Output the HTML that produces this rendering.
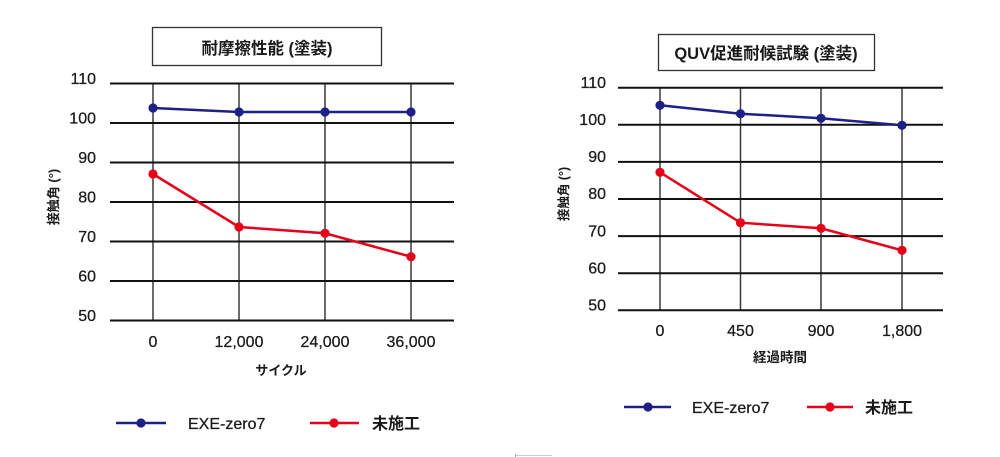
<!DOCTYPE html>
<html><head><meta charset="utf-8"><style>
html,body{margin:0;padding:0;background:#fff;}
svg{display:block;}
.n{font-family:"Liberation Sans","Noto Sans CJK JP",sans-serif;font-size:16px;fill:#1a1a1a;stroke:#1a1a1a;stroke-width:0.25;}
.j{font-family:"Liberation Sans","Noto Sans CJK JP",sans-serif;font-weight:bold;fill:#1a1a1a;}
</style></head><body>
<svg width="1000" height="457" viewBox="0 0 1000 457" xmlns="http://www.w3.org/2000/svg">
<rect width="1000" height="457" fill="#fff"/>

<!-- LEFT CHART -->
<rect x="152.5" y="27.5" width="229" height="38" fill="#fff" stroke="#333" stroke-width="1.3"/>
<text class="j" x="267" y="54" font-size="16.5" text-anchor="middle">耐摩擦性能 (塗装)</text>

<g stroke="#3a3a3a" stroke-width="1.5">
<line x1="153" y1="83.5" x2="153" y2="320.5"/>
<line x1="239" y1="83.5" x2="239" y2="320.5"/>
<line x1="325" y1="83.5" x2="325" y2="320.5"/>
<line x1="411" y1="83.5" x2="411" y2="320.5"/>
</g>
<g stroke="#111" stroke-width="2">
<line x1="110" y1="83.5" x2="454" y2="83.5"/>
<line x1="110" y1="123" x2="454" y2="123"/>
<line x1="110" y1="162.5" x2="454" y2="162.5"/>
<line x1="110" y1="202" x2="454" y2="202"/>
<line x1="110" y1="241.5" x2="454" y2="241.5"/>
<line x1="110" y1="281" x2="454" y2="281"/>
<line x1="110" y1="320.5" x2="454" y2="320.5"/>
</g>
<g class="n" text-anchor="end">
<text x="96" y="84">110</text>
<text x="96" y="123.5">100</text>
<text x="96" y="163">90</text>
<text x="96" y="202.5">80</text>
<text x="96" y="242">70</text>
<text x="96" y="281.5">60</text>
<text x="96" y="321">50</text>
</g>
<text class="j" font-size="13" text-anchor="middle" transform="translate(58,197) rotate(-90)">接触角 (°)</text>
<g class="n" text-anchor="middle" font-size="16.5">
<text x="153" y="347">0</text>
<text x="239" y="347">12,000</text>
<text x="325" y="347">24,000</text>
<text x="411" y="347">36,000</text>
</g>
<text class="j" font-size="13" x="281" y="375" text-anchor="middle">サイクル</text>

<polyline points="153,108 239,112 325,112 411,112" fill="none" stroke="#1c2087" stroke-width="2.5"/>
<g fill="#1c2087">
<circle cx="153" cy="108" r="4.6"/><circle cx="239" cy="112" r="4.6"/><circle cx="325" cy="112" r="4.6"/><circle cx="411" cy="112" r="4.6"/>
</g>
<polyline points="153,174 239,227 325,233.3 411,256.7" fill="none" stroke="#e60019" stroke-width="2.5"/>
<g fill="#e60019">
<circle cx="153" cy="174" r="4.6"/><circle cx="239" cy="227" r="4.6"/><circle cx="325" cy="233.3" r="4.6"/><circle cx="411" cy="256.7" r="4.6"/>
</g>

<line x1="116" y1="423" x2="166" y2="423" stroke="#1c2087" stroke-width="2.5"/>
<circle cx="141" cy="423" r="4.6" fill="#1c2087"/>
<text class="n" font-size="16.5" x="188" y="429">EXE-zero7</text>
<line x1="310" y1="423" x2="359" y2="423" stroke="#e60019" stroke-width="2.5"/>
<circle cx="334" cy="423" r="4.6" fill="#e60019"/>
<text class="j" font-size="16" x="372" y="429">未施工</text>

<!-- RIGHT CHART -->
<rect x="658.5" y="34.5" width="216" height="36" fill="#fff" stroke="#333" stroke-width="1.3"/>
<text class="j" x="766" y="59" font-size="16.5" text-anchor="middle">QUV促進耐候試験 (塗装)</text>

<g stroke="#3a3a3a" stroke-width="1.5">
<line x1="660" y1="87.7" x2="660" y2="310.3"/>
<line x1="740.5" y1="87.7" x2="740.5" y2="310.3"/>
<line x1="821" y1="87.7" x2="821" y2="310.3"/>
<line x1="902" y1="87.7" x2="902" y2="310.3"/>
</g>
<g stroke="#111" stroke-width="2">
<line x1="618" y1="87.7" x2="943" y2="87.7"/>
<line x1="618" y1="124.8" x2="943" y2="124.8"/>
<line x1="618" y1="161.9" x2="943" y2="161.9"/>
<line x1="618" y1="199" x2="943" y2="199"/>
<line x1="618" y1="236.1" x2="943" y2="236.1"/>
<line x1="618" y1="273.2" x2="943" y2="273.2"/>
<line x1="618" y1="310.3" x2="943" y2="310.3"/>
</g>
<g class="n" text-anchor="end">
<text x="606" y="88">110</text>
<text x="606" y="125">100</text>
<text x="606" y="162">90</text>
<text x="606" y="199">80</text>
<text x="606" y="236.5">70</text>
<text x="606" y="273.5">60</text>
<text x="606" y="310.5">50</text>
</g>
<text class="j" font-size="12.5" text-anchor="middle" transform="translate(568,194) rotate(-90)">接触角 (°)</text>
<g class="n" text-anchor="middle" font-size="16.5">
<text x="660" y="336">0</text>
<text x="740.5" y="336">450</text>
<text x="821" y="336">900</text>
<text x="902" y="336">1,800</text>
</g>
<text class="j" font-size="13.5" x="780" y="362" text-anchor="middle">経過時間</text>

<polyline points="660,105.3 740.5,113.7 821,118.3 902,125.3" fill="none" stroke="#1c2087" stroke-width="2.5"/>
<g fill="#1c2087">
<circle cx="660" cy="105.3" r="4.6"/><circle cx="740.5" cy="113.7" r="4.6"/><circle cx="821" cy="118.3" r="4.6"/><circle cx="902" cy="125.3" r="4.6"/>
</g>
<polyline points="660,172.3 740.5,222.7 821,228.3 902,250.3" fill="none" stroke="#e60019" stroke-width="2.5"/>
<g fill="#e60019">
<circle cx="660" cy="172.3" r="4.6"/><circle cx="740.5" cy="222.7" r="4.6"/><circle cx="821" cy="228.3" r="4.6"/><circle cx="902" cy="250.3" r="4.6"/>
</g>

<line x1="624" y1="407" x2="671" y2="407" stroke="#1c2087" stroke-width="2.5"/>
<circle cx="648" cy="407" r="4.6" fill="#1c2087"/>
<text class="n" font-size="16.5" x="692" y="413">EXE-zero7</text>
<line x1="807" y1="407" x2="853" y2="407" stroke="#e60019" stroke-width="2.5"/>
<circle cx="830" cy="407" r="4.6" fill="#e60019"/>
<text class="j" font-size="16" x="865" y="413">未施工</text>

<line x1="515" y1="455.5" x2="552" y2="455.5" stroke="#ccc" stroke-width="1"/>
<line x1="515.5" y1="454" x2="515.5" y2="457" stroke="#aaa" stroke-width="1"/>
</svg>
</body></html>
